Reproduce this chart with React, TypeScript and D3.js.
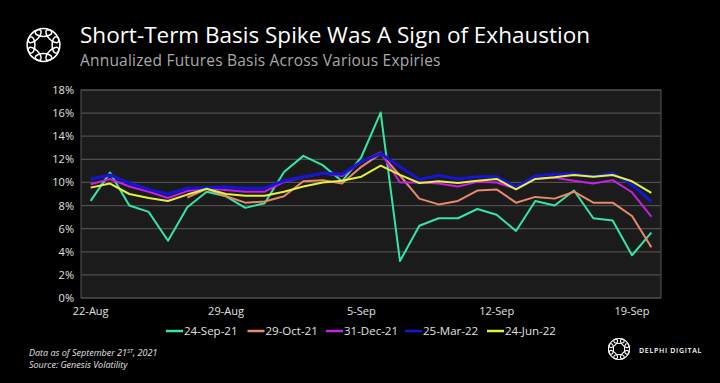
import React from "react";
import * as d3 from "d3";

const startDate = new Date(2021, 7, 22);
const dayCount = 30;

const series24Sep21 = [8.4, 10.85, 8.0, 7.45, 4.95, 7.85, 9.2, 8.8, 7.8, 8.2, 10.9, 12.3, 11.5, 10.1, 12.2, 16.05, 3.2, 6.25, 6.9, 6.9, 7.7, 7.2, 5.8, 8.4, 8.0, 9.3, 6.9, 6.7, 3.7, 5.65];
const series29Oct21 = [null, null, null, null, null, 8.7, 9.45, 8.8, 8.25, 8.35, 8.8, 10.1, 10.2, 9.9, 11.35, 12.5, 10.6, 8.6, 8.1, 8.4, 9.3, 9.4, 8.25, 8.75, 8.6, 9.2, 8.25, 8.25, 7.1, 4.4];
const series31Dec21 = [9.85, 10.3, 9.65, 9.2, 8.65, 9.25, 9.5, 9.35, 9.2, 9.2, 10.05, 10.45, 10.8, 10.55, 11.8, 12.6, 10.0, 10.0, 9.9, 9.65, 10.05, 10.0, 9.45, 10.3, 10.4, 10.15, 9.9, 10.2, 9.15, 7.05];
const series25Mar22 = [10.3, 10.65, 9.95, 9.4, 9.0, 9.5, 9.55, 9.6, 9.5, 9.5, 10.15, 10.5, 10.8, 10.7, 11.8, 12.5, 11.35, 10.25, 10.6, 10.3, 10.5, 10.5, 9.6, 10.55, 10.7, 10.75, 10.5, 10.8, 9.8, 8.35];
const series24Jun22 = [9.55, 9.9, 9.0, 8.65, 8.4, 8.95, 9.45, 9.0, 8.85, 8.85, 9.2, 9.65, 10.0, 10.15, 10.5, 11.45, 10.65, 9.95, 10.1, 9.95, 10.15, 10.3, 9.4, 10.3, 10.45, 10.65, 10.5, 10.65, 10.1, 9.1];

const seriesNames = ["24-Sep-21", "29-Oct-21", "31-Dec-21", "25-Mar-22", "24-Jun-22"];
const seriesColors = ["#35e6a2", "#e8886c", "#c81ee8", "#1515d6", "#e4f23e"];
const seriesValues = [series24Sep21, series29Oct21, series31Dec21, series25Mar22, series24Jun22];
const seriesWidths = [2, 2, 2, 3, 2];

const yTicks = [0, 2, 4, 6, 8, 10, 12, 14, 16, 18];
const xTickDates = [new Date(2021, 7, 22), new Date(2021, 7, 29), new Date(2021, 8, 5), new Date(2021, 8, 12), new Date(2021, 8, 19)];

const dates = d3.range(dayCount).map((i) => d3.timeDay.offset(startDate, i));

const W = 720;
const H = 383;
const left = 81;
const right = 661;
const top = 90;
const bottom = 298;

const font = "'Open Sans', 'Noto Sans', sans-serif";

function Logo({ cx, cy, r, rx, ry, sw }: { cx: number; cy: number; r: number; rx: number; ry: number; sw: number }) {
  const n = 8;
  return (
    <g>
      {d3.range(n).map((k) => {
        const a = (k * 360) / n;
        const rad = (a * Math.PI) / 180;
        const x = cx + r * Math.cos(rad);
        const y = cy + r * Math.sin(rad);
        return (
          <ellipse key={k} cx={x} cy={y} rx={rx} ry={ry} transform={`rotate(${a + 90} ${x} ${y})`} fill="none" stroke="#fff" strokeWidth={sw} />
        );
      })}
    </g>
  );
}

export default function App() {
  const x = d3
    .scaleTime()
    .domain([d3.timeHour.offset(startDate, -12), d3.timeHour.offset(dates[dayCount - 1], 12)])
    .range([left, right]);
  const y = d3.scaleLinear().domain([0, 18]).range([bottom, top]);
  const fmt = d3.timeFormat("%-d-%b");

  const line = d3
    .line<number | null>()
    .defined((d) => d !== null)
    .x((_, i) => x(dates[i]))
    .y((d) => y(d as number));

  const legendX = [166, 247.5, 326, 405, 487];

  return (
    <svg width={W} height={H} style={{ position: "absolute", left: 0, top: 0, background: "#000" }} fontFamily={font}>
      <rect x={0} y={0} width={W} height={H} fill="#000" />
      <Logo cx={43.5} cy={45} r={12.5} rx={8.3} ry={3.9} sw={1.5} />
      <text x={80} y={43} fill="#fff" fontSize={22.5}>
        Short-Term Basis Spike Was A Sign of Exhaustion
      </text>
      <text x={80} y={66} fill="#a9a9a9" fontSize={15.5} letterSpacing={0.2}>
        Annualized Futures Basis Across Various Expiries
      </text>

      <rect x={left} y={top} width={right - left} height={bottom - top} fill="#1b1b1b" stroke="#555" strokeWidth={1} />
      {yTicks.map((t) => (
        <g key={t}>
          <line x1={left} x2={right} y1={y(t)} y2={y(t)} stroke="#4e4e4e" strokeWidth={1.2} />
          <text x={74} y={y(t) + 4} textAnchor="end" fill="#e0e0e0" fontSize={11}>
            {t}%
          </text>
        </g>
      ))}
      {xTickDates.map((d) => (
        <text key={+d} x={x(d)} y={315} textAnchor="middle" fill="#e0e0e0" fontSize={11}>
          {fmt(d)}
        </text>
      ))}

      {seriesValues.map((vals, i) => (
        <path key={i} d={line(vals) || ""} fill="none" stroke={seriesColors[i]} strokeWidth={seriesWidths[i]} strokeLinejoin="round" />
      ))}

      {seriesNames.map((n, i) => (
        <g key={n}>
          <line x1={legendX[i]} x2={legendX[i] + 17} y1={331} y2={331} stroke={seriesColors[i]} strokeWidth={2.5} />
          <text x={legendX[i] + 18} y={335} fill="#e0e0e0" fontSize={11.5}>
            {n}
          </text>
        </g>
      ))}

      <text x={29} y={355.5} fill="#e0e0e0" fontSize={9} fontStyle="italic">
        Data as of September 21<tspan fontSize={6} dy={-3}>ST</tspan>
        <tspan dy={3}>, 2021</tspan>
      </text>
      <text x={29} y={368} fill="#e0e0e0" fontSize={9} fontStyle="italic">
        Source: Genesis Volatility
      </text>

      <Logo cx={619} cy={349} r={8} rx={5.2} ry={2.5} sw={1.1} />
      <text x={639} y={352.5} fill="#fff" fontSize={7} letterSpacing={0.7} fontWeight={600}>
        DELPHI DIGITAL
      </text>
    </svg>
  );
}
